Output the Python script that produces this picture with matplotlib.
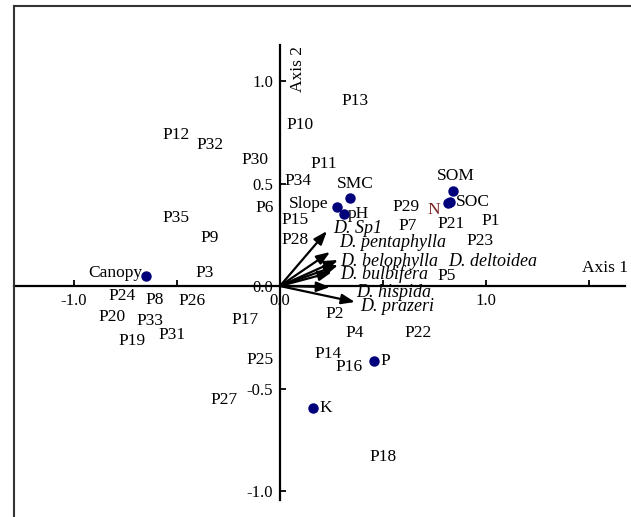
import matplotlib
matplotlib.use("Agg")
import matplotlib.pyplot as plt
from matplotlib.lines import Line2D

plt.rcParams["font.family"] = ["Liberation Serif", "DejaVu Serif"]

# site scores (axis 1, axis 2)
sites = ["P1", "P2", "P3", "P4", "P5", "P6", "P7", "P8", "P9", "P10",
         "P11", "P12", "P13", "P14", "P15", "P16", "P17", "P18", "P19", "P20",
         "P21", "P22", "P23", "P24", "P25", "P26", "P27", "P28", "P29", "P30",
         "P31", "P32", "P33", "P34", "P35"]
site_x = [1.024, 0.267, -0.364, 0.364, 0.811, -0.073, 0.621, -0.607, -0.340, 0.097,
          0.214, -0.505, 0.364, 0.233, 0.073, 0.335, -0.170, 0.500, -0.718, -0.816,
          0.830, 0.670, 0.971, -0.767, -0.097, -0.427, -0.272, 0.073, 0.612, -0.121,
          -0.524, -0.340, -0.631, 0.087, -0.505]
site_y = [0.317, -0.137, 0.063, -0.229, 0.049, 0.380, 0.293, -0.068, 0.234, 0.785,
          0.595, 0.737, 0.902, -0.332, 0.322, -0.395, -0.166, -0.834, -0.268, -0.151,
          0.302, -0.229, 0.220, -0.049, -0.361, -0.073, -0.556, 0.224, 0.385, 0.615,
          -0.239, 0.688, -0.171, 0.512, 0.332]

# environmental variables
env = ["Canopy", "SMC", "Slope", "pH", "SOM", "SOC", "N", "P", "K"]
env_x = [-0.650, 0.340, 0.277, 0.311, 0.840, 0.826, 0.818, 0.456, 0.160]
env_y = [0.049, 0.429, 0.385, 0.351, 0.463, 0.410, 0.405, -0.366, -0.595]

# species vectors and where their names sit
species = ["D. Sp1", "D. pentaphylla", "D. belophylla", "D. deltoidea",
           "D. bulbifera", "D. hispida", "D. prazeri"]
sp_x = [0.228, 0.243, 0.282, 0.282, 0.252, 0.243, 0.364]
sp_y = [0.268, 0.166, 0.127, 0.102, 0.068, -0.005, -0.078]
sp_lab_x = [0.257, 0.286, 0.291, 0.816, 0.291, 0.369, 0.388]
sp_lab_y = [0.283, 0.210, 0.122, 0.122, 0.059, -0.034, -0.098]

W, H = 631, 517
fig = plt.figure(figsize=(W / 100, H / 100), dpi=100)
ax = fig.add_axes([14 / W, 17 / H, 611 / W, 455 / H])
ax.set_xlim(-1.291, 1.675)
ax.set_ylim(-1.044, 1.176)

for s in ["top", "right"]:
    ax.spines[s].set_visible(False)
ax.spines["left"].set_position(("data", 0))
ax.spines["bottom"].set_position(("data", 0))
ax.spines["left"].set_linewidth(1.6)
ax.spines["bottom"].set_linewidth(1.6)

ax.set_xticks([-1.0, -0.5, 0.0, 0.5, 1.0, 1.5])
ax.set_xticklabels(["-1.0", "", "0.0", "", "1.0", ""])
ax.set_yticks([-1.0, -0.5, 0.0, 0.5, 1.0])
ax.set_yticklabels(["-1.0", "-0.5", "0.0", "0.5", "1.0"])
ax.tick_params(direction="in", length=4, width=1.3, labelsize=12, pad=5)

fs = 12.5
for name, x, y in zip(sites, site_x, site_y):
    ax.text(x, y, name, fontsize=fs, ha="center", va="center")

# label offsets (points) for the environmental variables
offs = {"Canopy": (-3, 2, "right"), "SMC": (4, 10, "center"), "Slope": (-6, 2, "right"),
        "pH": (3, 0, "left"), "SOM": (2, 11, "center"), "SOC": (4, 0, "left"),
        "N": (-6, -5, "right"), "P": (5, 0, "left"), "K": (5, 0, "left")}
for name, x, y in zip(env, env_x, env_y):
    ax.plot(x, y, "o", color="#00007a", markersize=6.5, zorder=5)
    dx, dy, ha = offs[name]
    ax.annotate(name, (x, y), xytext=(dx, dy), textcoords="offset points",
                fontsize=fs, ha=ha, va="center",
                color="#7a1f1f" if name == "N" else "black")

for name, x, y, lx, ly in zip(species, sp_x, sp_y, sp_lab_x, sp_lab_y):
    ax.annotate("", xy=(x, y), xytext=(0, 0),
                arrowprops=dict(arrowstyle="-|>,head_length=0.8,head_width=0.3",
                                color="black", lw=1.6, shrinkA=0, shrinkB=0))
    ax.text(lx, ly, name, fontsize=13, style="italic", ha="left", va="center")

ax.text(1.577, 0.09, "Axis 1", fontsize=fs, ha="center", va="center")
ax.text(0.09, 1.06, "Axis 2", fontsize=fs, ha="center", va="center", rotation=90)

# outer frame (left and top edges only)
fig.add_artist(Line2D([14 / W, 14 / W], [0, 1 - 6 / H], color="#333333", lw=1.5))
fig.add_artist(Line2D([14 / W, 1], [1 - 6 / H, 1 - 6 / H], color="#333333", lw=1.5))

fig.savefig("out.png", dpi=100)
